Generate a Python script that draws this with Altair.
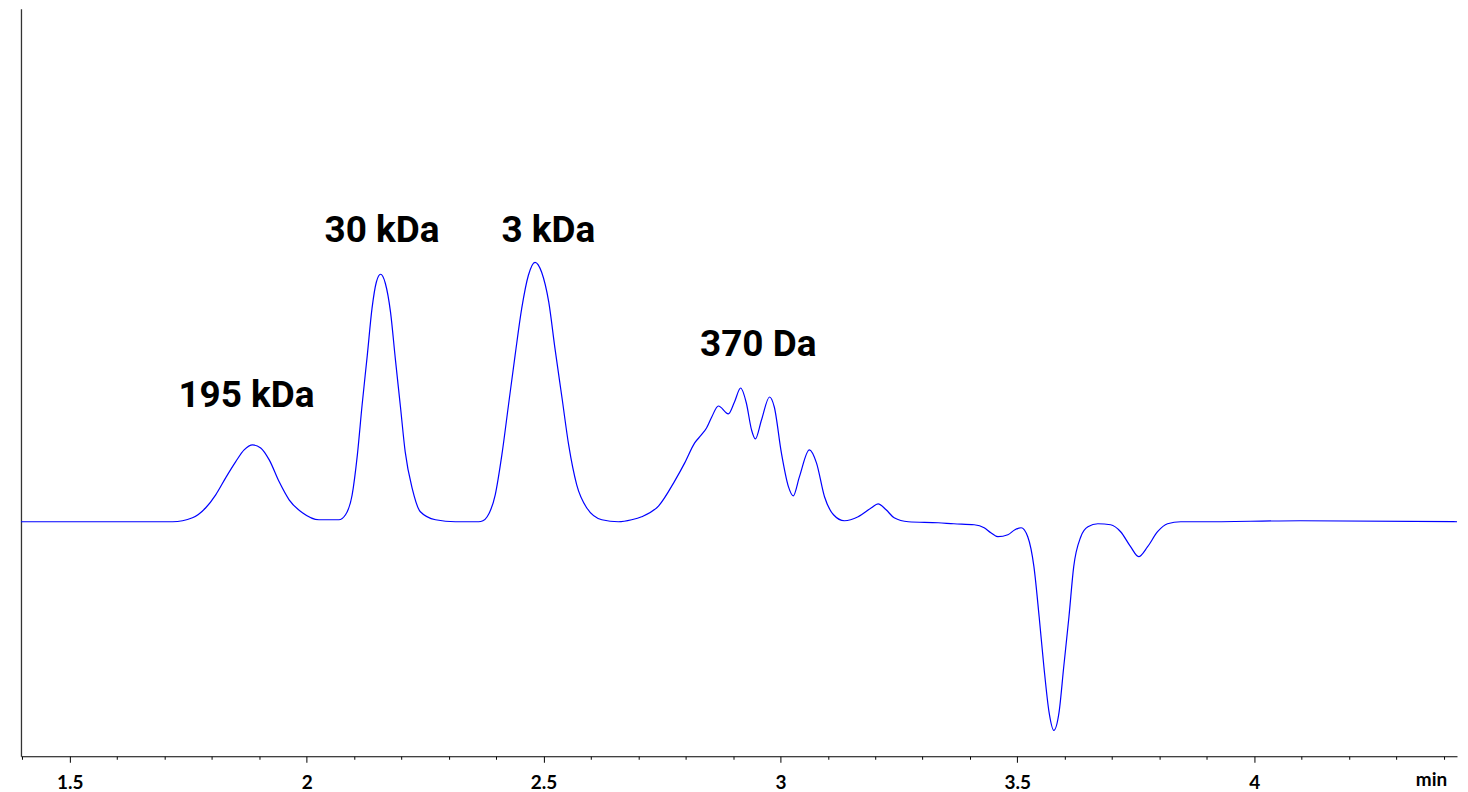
import altair as alt
import pandas as pd

# Retention time (min) and detector signal (arbitrary units)
time_min = [
    1.397, 1.569, 1.675, 1.717, 1.759, 1.787, 1.808, 1.829, 1.850, 1.868,
    1.886, 1.903, 1.921, 1.942, 1.963, 1.991, 2.026, 2.068, 2.082, 2.096,
    2.107, 2.117, 2.128, 2.138, 2.147, 2.156, 2.166, 2.177, 2.187, 2.198,
    2.208, 2.223, 2.240, 2.272, 2.314, 2.363, 2.372, 2.381, 2.398, 2.412,
    2.426, 2.440, 2.454, 2.468, 2.482, 2.496, 2.511, 2.524, 2.539, 2.553,
    2.570, 2.591, 2.623, 2.658, 2.686, 2.707, 2.743, 2.777, 2.798, 2.819,
    2.833, 2.844, 2.855, 2.869, 2.890, 2.903, 2.916, 2.928, 2.939, 2.947,
    2.960, 2.977, 2.987, 3.002, 3.017, 3.027, 3.040, 3.061, 3.076, 3.093,
    3.112, 3.135, 3.164, 3.192, 3.206, 3.223, 3.240, 3.270, 3.333, 3.366,
    3.409, 3.430, 3.444, 3.459, 3.480, 3.495, 3.508, 3.522, 3.535, 3.546,
    3.556, 3.567, 3.577, 3.588, 3.598, 3.609, 3.619, 3.634, 3.649, 3.670,
    3.697, 3.718, 3.739, 3.756, 3.775, 3.796, 3.817, 3.845, 3.887, 4.097,
    4.428,
]
signal = [
    0, 0, 0, 0, 4, 14, 27, 44, 60, 72,
    77, 74, 62, 40, 22, 9, 2, 2, 7, 27,
    67, 117, 167, 214, 240, 248, 239, 210, 164, 115,
    70, 33, 10, 2, 0, 0, 1, 5, 27, 67,
    117, 167, 214, 247, 260, 250, 220, 174, 124, 77,
    37, 14, 2, 0, 2, 5, 16, 41, 59, 79,
    87, 94, 105, 116, 108, 120, 134, 119, 92, 83,
    102, 125, 115, 69, 35, 26, 45, 72, 59, 25,
    7, 1, 5, 14, 18, 12, 4, 0, -1, -2,
    -3, -6, -11, -15, -13, -8, -6, -15, -45, -95,
    -145, -191, -209, -191, -145, -95, -45, -15, -5, -2,
    -3, -10, -25, -35, -25, -10, -2, 0, 0, 1,
    0,
]

# Peak annotations
peak_labels = ["195 kDa", "30 kDa", "3 kDa", "370 Da"]
label_time = [1.873, 2.159, 2.510, 2.953]
label_signal = [115, 280, 280, 166]

# Axis ticks (every 0.1 min, labelled every 0.5 min)
tick_values = [1.4, 1.5, 1.6, 1.7, 1.8, 1.9, 2.0, 2.1, 2.2, 2.3, 2.4, 2.5,
               2.6, 2.7, 2.8, 2.9, 3.0, 3.1, 3.2, 3.3, 3.4, 3.5, 3.6, 3.7,
               3.8, 3.9, 4.0, 4.1, 4.2, 4.3, 4.4]

trace = pd.DataFrame({"t": time_min, "s": signal})
labels = pd.DataFrame({"t": label_time, "s": label_signal, "label": peak_labels})

major_test = "abs(datum.value*2 - round(datum.value*2)) < 0.001"

x_scale = alt.Scale(domain=[1.397, 4.428], nice=False, zero=False)
y_scale = alt.Scale(domain=[-235, 514], nice=False, zero=False)

line = alt.Chart(trace).mark_line(
    color="#0000FF", strokeWidth=1.2, interpolate="monotone"
).encode(
    x=alt.X("t:Q", scale=x_scale, axis=alt.Axis(
        values=tick_values,
        title="min",
        titleFont="Lato", titleFontSize=19, titleFontWeight="bold",
        titleColor="#000000", titleAnchor="start", titleAlign="center",
        titleBaseline="alphabetic", titleX=1413, titleY=29,
        labelExpr=f"{major_test} ? format(datum.value, '~g') : ''",
        labelFont="Lato", labelFontSize=19, labelFontWeight="bold",
        labelColor="#000000", labelOverlap=False, labelFlush=False,
        labelBaseline="alphabetic", labelPadding=26,
        tickColor="#000000",
        tickSize={"condition": {"test": major_test, "value": 6}, "value": 3},
        domainColor="#000000", domainWidth=1, grid=False,
    )),
    y=alt.Y("s:Q", scale=y_scale, axis=alt.Axis(
        title=None, labels=False, ticks=False, grid=False,
        domainColor="#333333", domainWidth=1.3,
    )),
)

text = alt.Chart(labels).mark_text(
    font="Roboto", fontSize=37, fontWeight="bold", color="#000000",
    align="center", baseline="alphabetic",
).encode(
    x=alt.X("t:Q", scale=x_scale),
    y=alt.Y("s:Q", scale=y_scale),
    text="label:N",
)

chart = alt.layer(line, text).properties(
    width=1439, height=749,
    padding={"left": 10, "top": 0, "right": 0, "bottom": 0},
).configure_view(stroke=None)

chart.save("out.html", embed_options={"renderer": "svg", "actions": False})
